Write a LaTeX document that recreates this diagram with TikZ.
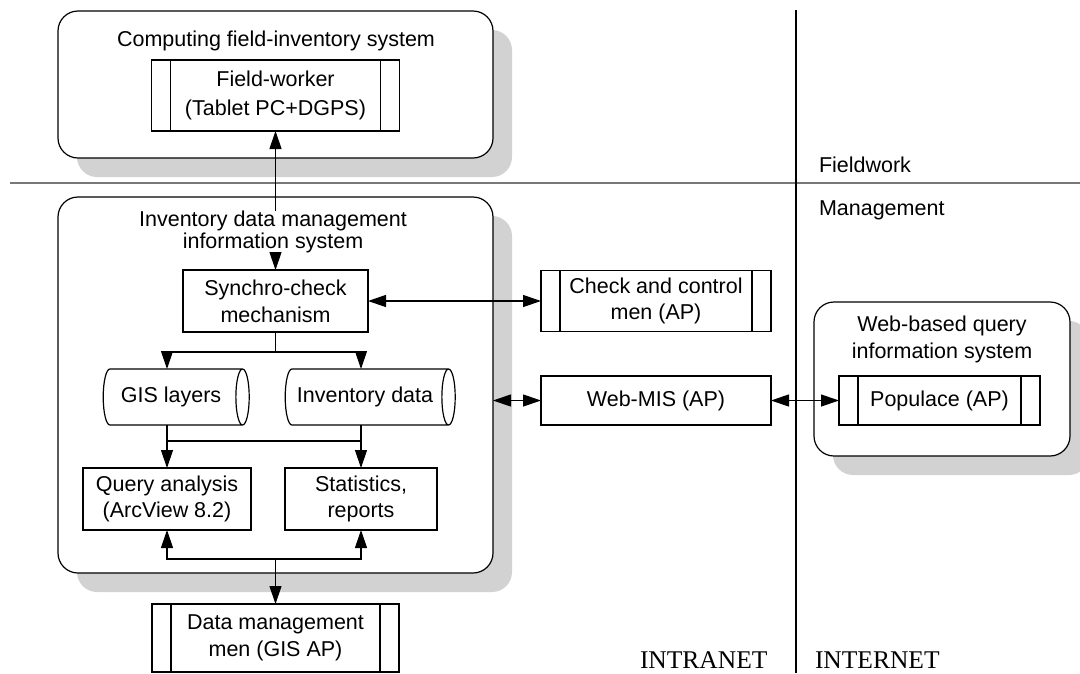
\documentclass[tikz,border=0pt]{standalone}
\usepackage{fontspec}
\setmainfont{Liberation Sans}
\newfontfamily\netfont{Liberation Serif}
\usetikzlibrary{arrows.meta,shapes.geometric,shadows}
\definecolor{shadowgray}{RGB}{210,210,210}
\definecolor{rulegray}{RGB}{120,120,120}

\begin{document}
\begin{tikzpicture}[x=1pt,y=-1pt,line width=1.2pt,
	font=\fontsize{21.5}{26.7}\selectfont,
	>={Triangle[length=18pt,width=12pt]},
	every node/.style={outer sep=0pt},
	group/.style={draw, fill=white, rounded corners=20pt, drop shadow={shadow xshift=19pt, shadow yshift=-19pt, fill=shadowgray, opacity=1}},
	proc/.style={draw, align=center},
	subproc/.style={proc, path picture={
		\draw ([xshift=19pt]path picture bounding box.north west) -- ([xshift=19pt]path picture bounding box.south west);
		\draw ([xshift=-19pt]path picture bounding box.north east) -- ([xshift=-19pt]path picture bounding box.south east);}},
	store/.style={draw, cylinder, shape aspect=0.5, minimum width=56pt},
	title/.style={align=center, inner sep=0pt},
	lbl/.style={anchor=base west, inner sep=0pt}]
	\useasboundingbox (0,0) rectangle (1080,673);
	% zones
	\draw[rulegray, line width=2pt] (10,183) -- (1080,183);
	\draw[line width=1.4pt] (796,10) -- (796,673);
	\node[lbl] (fieldwork) at (819,172) {Fieldwork};
	\node[lbl] (management) at (819,215) {Management};
	\node[lbl, font=\netfont\fontsize{25.5}{30}\selectfont] (intranet) at (640,668) {INTRANET};
	\node[lbl, font=\netfont\fontsize{25.5}{30}\selectfont] (internet) at (815,668) {INTERNET};
	% systems
	\node[group, minimum width=435pt, minimum height=147pt] (compsys) at (275.5,84.5) {};
	\node[group, minimum width=435pt, minimum height=376pt] (imsys) at (275.5,385) {};
	\node[group, minimum width=256pt, minimum height=154pt] (websys) at (942,379) {};
	\node[title, anchor=base] (comptitle) at (276,46.7) {Computing field-inventory system};
	\node[title, anchor=base, font=\fontsize{21.5}{21.7}\selectfont] (imtitle) at (273,248.4) {Inventory data management\\information system};
	\node[title, anchor=base, font=\fontsize{21.5}{27}\selectfont] (webtitle) at (942,358) {Web-based query\\information system};
	% boxes
	\node[subproc, minimum width=248pt, minimum height=71pt, font=\fontsize{21.5}{29}\selectfont] (fieldworker) at (275.5,95.5) {Field-worker\\(Tablet PC+DGPS)};
	\node[proc, minimum width=185pt, minimum height=62pt] (synchro) at (275.5,301) {Synchro-check\\mechanism};
	\node[store, minimum height=146pt] (gis) at (171,397) {GIS layers};
	\node[store, minimum height=170pt] (invdata) at (365,397) {Inventory data};
	\node[proc, minimum width=168pt, minimum height=62pt] (query) at (167,499) {Query analysis\\(ArcView 8.2)};
	\node[proc, minimum width=152pt, minimum height=62pt] (stats) at (361,499) {Statistics,\\reports};
	\node[subproc, minimum width=247pt, minimum height=68pt] (datamgmt) at (275.5,638) {Data management\\men (GIS AP)};
	\node[subproc, minimum width=230pt, minimum height=61pt] (check) at (656,301) {Check and control\\men (AP)};
	\node[proc, minimum width=230pt, minimum height=49pt] (webmis) at (656,400.5) {Web-MIS (AP)};
	\node[subproc, minimum width=201pt, minimum height=49pt] (populace) at (939.5,400.5) {Populace (AP)};
	\coordinate (split) at (275.5,352);
	\coordinate (merge) at (275.5,441);
	\coordinate (split2) at (275.5,559);
	% links
	\draw[<-] (fieldworker) -- (fieldworker.south |- imtitle.north);
	\draw[->] (imtitle.south -| synchro) -- (synchro);
	\draw (synchro) -- (split);
	\draw[<->] (gis.north -| query) |- (split) -| (invdata.north -| stats);
	\draw (gis.south -| query) |- (merge) -| (invdata.south -| stats);
	\draw[->] (query |- merge) -- (query);
	\draw[->] (stats |- merge) -- (stats);
	\draw[<->] (query) |- (split2) -| (stats);
	\draw[->] (split2) -- (datamgmt);
	\draw[<->] (synchro) -- (check);
	\draw[<->] (imsys.east |- webmis) -- (webmis);
	\draw[<->] (webmis) -- (populace);
\end{tikzpicture}
\end{document}
